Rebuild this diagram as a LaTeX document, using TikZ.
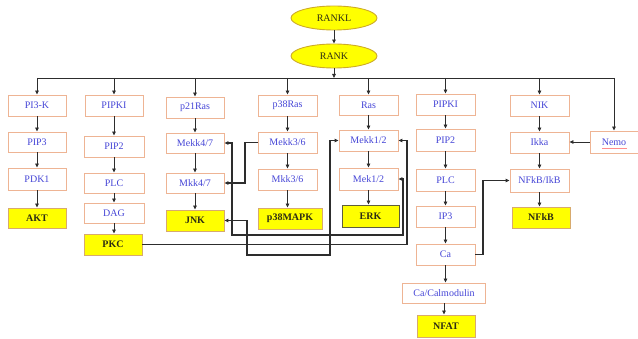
\documentclass[tikz,border=0pt]{standalone}
\usepackage{fontspec}
\setmainfont{Liberation Serif}
\usetikzlibrary{arrows.meta,shapes.geometric}
\definecolor{bord}{RGB}{238,180,148}
\definecolor{txtblue}{RGB}{70,70,215}
\definecolor{yel}{RGB}{255,255,0}
\definecolor{ybord}{RGB}{215,170,110}
\definecolor{ydark}{RGB}{95,95,60}
\definecolor{ytxt}{RGB}{45,45,20}
\definecolor{ellbord}{RGB}{205,170,40}
\definecolor{lin}{RGB}{45,45,45}
\tikzset{
  box/.style={draw=bord, fill=white, line width=0.9pt, inner sep=0pt, text=txtblue,
    font=\fontsize{10}{11}\selectfont, minimum height=21pt},
  ybox/.style={box, fill=yel, draw=ybord, text=ytxt, font=\fontsize{10}{11}\selectfont\bfseries},
  ell/.style={ellipse, draw=ellbord, fill=yel, line width=0.9pt, inner sep=0pt,
    minimum width=86pt, minimum height=24pt, text=ytxt, font=\fontsize{10}{11}\selectfont},
  tip/.tip={Triangle[length=4pt,width=3.6pt]},
  arr/.style={-tip, line width=0.8pt, draw=lin},
  conn/.style={-tip, line width=1.4pt, draw=lin},
  dconn/.style={tip-tip, line width=1.4pt, draw=lin}
}
\begin{document}
\begin{tikzpicture}[x=1pt,y=-1pt]
\useasboundingbox (0,0) rectangle (638,339);
% top
\node[ell] (rankl) at (334,18) {RANKL};
\node[ell] (rank) at (334,56) {RANK};
% column 1
\node[box, minimum width=58pt] (pik) at (37,105.5) {PI3-K};
\node[box, minimum width=58pt, minimum height=20pt] (pip3) at (37,142) {PIP3};
\node[box, minimum width=58pt, minimum height=22pt] (pdk1) at (37,179) {PDK1};
\node[ybox, minimum width=58pt, minimum height=20pt] (akt) at (37,218) {AKT};
% column 2
\node[box, minimum width=58pt] (pipkia) at (114,105.5) {PIPKI};
\node[box, minimum width=60pt] (pip2a) at (114,146.5) {PIP2};
\node[box, minimum width=60pt, minimum height=20pt] (plca) at (114,183) {PLC};
\node[box, minimum width=60pt, minimum height=20pt] (dag) at (114,213) {DAG};
\node[ybox, minimum width=58pt] (pkc) at (113,244.5) {PKC};
% column 3
\node[box, minimum width=58pt] (p21) at (195,107.5) {p21Ras};
\node[box, minimum width=58pt, minimum height=20pt] (mekk47) at (195,143) {Mekk4/7};
\node[box, minimum width=58pt, minimum height=20pt] (mkk47) at (195,183) {Mkk4/7};
\node[ybox, minimum width=58pt] (jnk) at (195,220.5) {JNK};
% column 4
\node[box, minimum width=59pt] (p38ras) at (287.5,105.5) {p38Ras};
\node[box, minimum width=59pt] (mekk36) at (287.5,142.5) {Mekk3/6};
\node[box, minimum width=59pt] (mkk36) at (287.5,179.5) {Mkk3/6};
\node[ybox, minimum width=64pt] (p38mapk) at (290,218.5) {p38MAPK};
% column 5
\node[box, minimum width=59pt, minimum height=20pt] (ras) at (368.5,105) {Ras};
\node[box, minimum width=59pt] (mekk12) at (368.5,140.5) {Mekk1/2};
\node[box, minimum width=59pt, minimum height=22pt] (mek12) at (368.5,179) {Mek1/2};
\node[ybox, draw=ydark, minimum width=57pt, minimum height=22pt] (erk) at (370.5,216) {ERK};
% column 6
\node[box, minimum width=59pt] (pipkib) at (445.5,104.5) {PIPKI};
\node[box, minimum width=59pt, minimum height=22pt] (pip2b) at (445.5,140) {PIP2};
\node[box, minimum width=59pt, minimum height=22pt] (plcb) at (445.5,180) {PLC};
\node[box, minimum width=59pt] (ip3) at (445.5,216.5) {IP3};
\node[box, minimum width=59pt] (ca) at (445.5,254.5) {Ca};
\node[box, minimum width=83pt, minimum height=20pt] (cacal) at (444,293) {Ca/Calmodulin};
\node[ybox, minimum width=58pt, minimum height=22pt] (nfat) at (446,326) {NFAT};
% column 7
\node[box, minimum width=59pt] (nik) at (539.5,105.5) {NIK};
\node[box, minimum width=59pt] (ikka) at (539.5,142.5) {Ikka};
\node[box, minimum width=59pt, minimum height=23pt] (nfkbikb) at (539.5,180.5) {NFkB/IkB};
\node[ybox, minimum width=58pt] (nfkb) at (541,217.5) {NFkB};
\node[box, minimum width=48pt, minimum height=22pt] (nemo) at (614,142) {Nemo};
\draw[red!45, line width=0.35pt] (602,148.3) -- (627,148.3);
% top arrows and bus
\coordinate (busL) at (37,78);
\coordinate (busR) at (614,78);
\draw[arr] (rankl.south) -- (rank.north);
\draw[arr] (rank.south) -- (rank.south |- busL);
\draw[line width=0.8pt, draw=lin] (busL) -- (busR);
\foreach \n in {pik,pipkia,p21,p38ras,ras,pipkib,nik,nemo}
  \draw[arr] (\n.north |- busL) -- (\n.north);
% column arrows
\foreach \a/\b in {pik/pip3,pip3/pdk1,pdk1/akt,
  pipkia/pip2a,pip2a/plca,plca/dag,dag/pkc,
  p21/mekk47,mekk47/mkk47,mkk47/jnk,
  p38ras/mekk36,mekk36/mkk36,mkk36/p38mapk,
  ras/mekk12,mekk12/mek12,mek12/erk,
  pipkib/pip2b,pip2b/plcb,plcb/ip3,ip3/ca,ca/cacal,cacal/nfat,
  nik/ikka,ikka/nfkbikb,nfkbikb/nfkb}
  \draw[arr] (\a.south) -- (\a.south |- \b.north);
% cross connectors
\draw[arr] (nemo.west) -- (nemo.west -| ikka.east);
\coordinate (xca) at (483,0);
\draw[conn] (ca.east) -- (ca.east -| xca) |- (nfkbikb.west);
\coordinate (xpkc) at (407,0);
\draw[conn] (pkc.east) -- (pkc.east -| xpkc) |- (mekk12.east);
\coordinate (la1) at (232,235);
\coordinate (la2) at (403,235);
\draw[dconn] (mekk47.east) -| (la1) -- (la2) |- (mek12.east);
\coordinate (xm36) at (245,0);
\draw[conn] (mekk36.west) -- (mekk36.west -| xm36) |- (mkk47.east);
\coordinate (lj1) at (247,255);
\coordinate (lj2) at (330,255);
\draw[dconn] (jnk.east) -| (lj1) -- (lj2) |- (mekk12.west);
\end{tikzpicture}
\end{document}
